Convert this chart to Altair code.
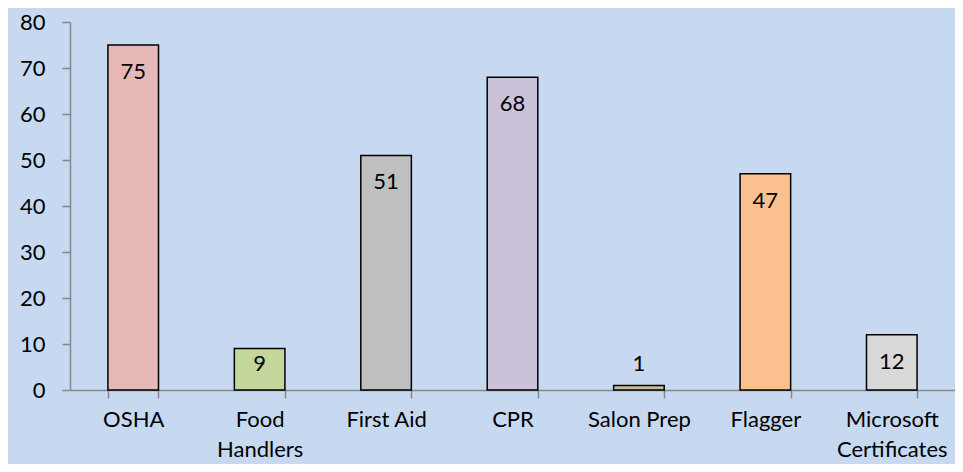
import altair as alt
import pandas as pd

categories = ["OSHA", "Food\nHandlers", "First Aid", "CPR", "Salon Prep", "Flagger", "Microsoft\nCertificates"]
values = [75, 9, 51, 68, 1, 47, 12]
colors = ["#E6B9B8", "#C3D69B", "#BFBFBF", "#CCC1DA", "#C4BD97", "#FAC090", "#D9D9D9"]

df = pd.DataFrame({"category": categories, "value": values, "color": colors})

FONT = "Lato"
FS = 22

x_enc = alt.X(
    "category:N",
    sort=categories,
    title=None,
    scale=alt.Scale(paddingInner=0.6, paddingOuter=0.3),
    axis=alt.Axis(
        labelAngle=0,
        labelExpr="split(datum.label, '\\n')",
        labelLineHeight=30,
        labelPadding=11,
        tickSize=8,
        tickBand="extent",
        domainColor="#868686",
        tickColor="#868686",
        domainWidth=1.5,
        tickWidth=1.5,
        labelColor="#000000",
        labelFont=FONT,
        labelFontSize=FS,
        labelBaseline="top",
    ),
)

y_enc = alt.Y(
    "value:Q",
    title=None,
    scale=alt.Scale(domain=[0, 80], nice=False),
    axis=alt.Axis(
        values=[0, 10, 20, 30, 40, 50, 60, 70, 80],
        grid=False,
        tickSize=8,
        labelPadding=17,
        domainColor="#868686",
        tickColor="#868686",
        domainWidth=1.5,
        tickWidth=1.5,
        labelColor="#000000",
        labelFont=FONT,
        labelFontSize=FS,
    ),
)

bars = alt.Chart(df).mark_bar(stroke="#000000", strokeWidth=1.5).encode(
    x=x_enc,
    y=y_enc,
    color=alt.Color("color:N", scale=None),
)

labels = alt.Chart(df).transform_calculate(
    label_pos="max(datum.value, 11.5)"
).mark_text(
    baseline="top", dy=17, font=FONT, fontSize=FS, color="#000000"
).encode(
    x=alt.X("category:N", sort=categories),
    y=alt.Y("label_pos:Q"),
    text=alt.Text("value:Q"),
)

chart = (bars + labels).properties(
    width=885,
    height=368,
    background="#C6D9F1",
    padding={"left": 62, "top": 14, "right": 0, "bottom": 74},
    autosize=alt.AutoSizeParams(type="none"),
).configure_view(strokeWidth=0)

chart.save("out.html", embed_options={"renderer": "svg", "actions": False})
